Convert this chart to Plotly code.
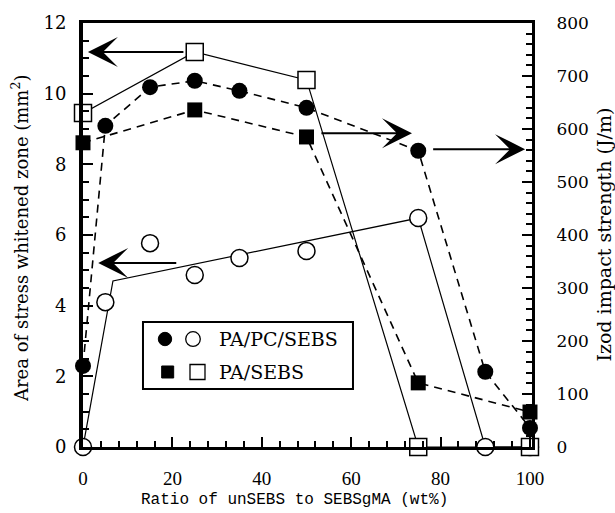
import plotly.graph_objects as go

# ---------------- data ----------------
# Izod impact strength (right axis, J/m) - filled symbols
ratio_pa_pc_sebs_izod = [0, 5, 15, 25, 35, 50, 75, 90, 100]
izod_pa_pc_sebs = [153, 606, 679, 691, 672, 640, 559, 142, 36]
ratio_pa_sebs_izod = [0, 25, 50, 75, 100]
izod_pa_sebs = [574, 636, 585, 121, 66]

# Area of stress whitened zone (left axis, mm2) - open symbols
ratio_pa_pc_sebs_area = [0, 5, 15, 25, 35, 50, 75, 90, 100]
area_pa_pc_sebs = [0, 4.1, 5.77, 4.87, 5.35, 5.55, 6.48, 0, 0]
ratio_pa_sebs_area = [0, 25, 50, 75, 100]
area_pa_sebs = [9.45, 11.18, 10.39, 0, 0]

# hand-drawn trend line through the open circles
trend_ratio_pa_pc_sebs = [0, 6.7, 75, 90, 100]
trend_area_pa_pc_sebs = [0, 4.7, 6.48, 0, 0]

# arrows telling which axis a curve belongs to: (tail x, tip x, y, axis)
arrow_tail_x = [22.8, 21.2, 53.0, 78.0]
arrow_tip_x = [1.1, 3.4, 73.6, 98.9]
arrow_y = [11.18, 5.21, 592, 562]
arrow_axis = ["y", "y", "y2", "y2"]

x_ticks = [0, 20, 40, 60, 80, 100]
y_left_ticks = [0, 2, 4, 6, 8, 10, 12]
y_right_ticks = [0, 100, 200, 300, 400, 500, 600, 700, 800]

legend_labels = ["PA/PC/SEBS", "PA/SEBS"]

# ---------------- figure ----------------
fig = go.Figure()

dash_style = "8px,6px"

# lines
fig.add_trace(go.Scatter(x=ratio_pa_pc_sebs_izod, y=izod_pa_pc_sebs, yaxis="y2", mode="lines",
                         line=dict(color="black", width=1.6, dash=dash_style), showlegend=False,
                         cliponaxis=False, hoverinfo="skip"))
fig.add_trace(go.Scatter(x=ratio_pa_sebs_izod, y=izod_pa_sebs, yaxis="y2", mode="lines",
                         line=dict(color="black", width=1.6, dash=dash_style), showlegend=False,
                         cliponaxis=False, hoverinfo="skip"))
fig.add_trace(go.Scatter(x=trend_ratio_pa_pc_sebs, y=trend_area_pa_pc_sebs, yaxis="y", mode="lines",
                         line=dict(color="black", width=1.2), showlegend=False,
                         cliponaxis=False, hoverinfo="skip"))
fig.add_trace(go.Scatter(x=ratio_pa_sebs_area, y=area_pa_sebs, yaxis="y", mode="lines",
                         line=dict(color="black", width=1.2), showlegend=False,
                         cliponaxis=False, hoverinfo="skip"))

# markers
fig.add_trace(go.Scatter(x=ratio_pa_pc_sebs_area, y=area_pa_pc_sebs, yaxis="y", mode="markers",
                         marker=dict(symbol="circle", size=17, color="white",
                                     line=dict(color="black", width=1.5)),
                         name=legend_labels[0] + " area", showlegend=False, cliponaxis=False))
fig.add_trace(go.Scatter(x=ratio_pa_sebs_area, y=area_pa_sebs, yaxis="y", mode="markers",
                         marker=dict(symbol="square", size=17, color="white",
                                     line=dict(color="black", width=1.5)),
                         name=legend_labels[1] + " area", showlegend=False, cliponaxis=False))
fig.add_trace(go.Scatter(x=ratio_pa_pc_sebs_izod, y=izod_pa_pc_sebs, yaxis="y2", mode="markers",
                         marker=dict(symbol="circle", size=16, color="black",
                                     line=dict(color="black", width=0)),
                         name=legend_labels[0] + " Izod", showlegend=False, cliponaxis=False))
fig.add_trace(go.Scatter(x=ratio_pa_sebs_izod, y=izod_pa_sebs, yaxis="y2", mode="markers",
                         marker=dict(symbol="square", size=15, color="black",
                                     line=dict(color="black", width=0)),
                         name=legend_labels[1] + " Izod", showlegend=False, cliponaxis=False))

annotations = []
for tx, hx, yy, ax_name in zip(arrow_tail_x, arrow_tip_x, arrow_y, arrow_axis):
    annotations.append(dict(x=hx, y=yy, xref="x", yref=ax_name, ax=tx, ay=yy,
                            axref="x", ayref=ax_name, showarrow=True, arrowhead=3,
                            arrowsize=2.5, arrowwidth=2, arrowcolor="black", text=" ",
                            font=dict(size=1), standoff=0))

serif = "DejaVu Serif"

# axis titles
annotations.append(dict(text="Area of stress whitened zone (mm<sup>2</sup>)", xref="paper", yref="paper",
                        x=-0.1403, y=0.4906, textangle=-90, showarrow=False,
                        xanchor="center", yanchor="middle",
                        font=dict(family=serif, size=18, color="black")))
annotations.append(dict(text="Izod impact strength (J/m)", xref="paper", yref="paper",
                        x=1.1604, y=0.501, textangle=-90, showarrow=False,
                        xanchor="center", yanchor="middle",
                        font=dict(family=serif, size=19, color="black")))
annotations.append(dict(text="Ratio of unSEBS to SEBSgMA (wt%)", xref="paper", yref="paper",
                        x=0.472, y=-0.125, showarrow=False, xanchor="center", yanchor="middle",
                        font=dict(family="Liberation Mono", size=16, color="black")))

# legend (drawn as box + symbols + text)
row_y = [0.2547, 0.1769]
for lab, yy in zip(legend_labels, row_y):
    annotations.append(dict(text=lab, xref="paper", yref="paper", x=0.2984, y=yy,
                            xanchor="left", yanchor="middle", showarrow=False,
                            font=dict(family=serif, size=19, color="black")))

shapes = [
    dict(type="rect", xref="paper", yref="paper", x0=0.1336, x1=0.6013, y0=0.1368, y1=0.2948,
         line=dict(color="black", width=2), fillcolor="white", layer="below"),
    dict(type="circle", xref="paper", yref="paper", xsizemode="pixel", ysizemode="pixel",
         xanchor=0.1826, yanchor=0.2547, x0=-6.7, x1=6.7, y0=-6.7, y1=6.7,
         line=dict(color="black", width=1), fillcolor="black"),
    dict(type="circle", xref="paper", yref="paper", xsizemode="pixel", ysizemode="pixel",
         xanchor=0.245, yanchor=0.2547, x0=-7.3, x1=7.3, y0=-7.3, y1=7.3,
         line=dict(color="black", width=1.3), fillcolor="white"),
    dict(type="rect", xref="paper", yref="paper", xsizemode="pixel", ysizemode="pixel",
         xanchor=0.1886, yanchor=0.1769, x0=-6, x1=6, y0=-6, y1=6,
         line=dict(color="black", width=1), fillcolor="black"),
    dict(type="rect", xref="paper", yref="paper", xsizemode="pixel", ysizemode="pixel",
         xanchor=0.255, yanchor=0.1769, x0=-7.5, x1=7.5, y0=-7.5, y1=7.5,
         line=dict(color="black", width=1.3), fillcolor="white"),
]

fig.update_layout(
    width=615, height=513,
    margin=dict(l=83, r=83, t=23, b=66),
    paper_bgcolor="white", plot_bgcolor="white",
    showlegend=False,
    xaxis=dict(range=[0, 100.45], tickvals=x_ticks, ticks="inside", ticklen=10, tickwidth=2,
               tickcolor="black", showline=True, linecolor="black", linewidth=3, mirror=True,
               showgrid=False, zeroline=False, ticklabelstandoff=12,
               tickfont=dict(family="Liberation Serif", size=19, color="black"),
               minor=dict(dtick=4, ticks="inside", ticklen=6, tickwidth=1.5, tickcolor="black",
                          showgrid=False)),
    yaxis=dict(range=[0, 12], tickvals=y_left_ticks, ticks="inside", ticklen=10, tickwidth=2,
               tickcolor="black", showline=True, linecolor="black", linewidth=4,
               showgrid=False, zeroline=False, ticklabelstandoff=9,
               tickfont=dict(family=serif, size=18, color="black"),
               minor=dict(dtick=0.5, ticks="inside", ticklen=6, tickwidth=1.5, tickcolor="black",
                          showgrid=False)),
    yaxis2=dict(range=[0, 800], tickvals=y_right_ticks, overlaying="y", side="right",
                ticks="inside", ticklen=10, tickwidth=2, tickcolor="black",
                showline=True, linecolor="black", linewidth=3, showgrid=False, zeroline=False,
                ticklabelstandoff=18,
                tickfont=dict(family=serif, size=17, color="black"),
                minor=dict(dtick=20, ticks="inside", ticklen=6, tickwidth=1.5, tickcolor="black",
                           showgrid=False)),
    annotations=annotations,
    shapes=shapes,
)

# remove the page's default 8px body margin so the figure fills the window exactly
fig.write_html("out.html",
               config={"displayModeBar": False},
               post_script="document.body.style.margin='0';document.body.style.overflow='hidden';")
